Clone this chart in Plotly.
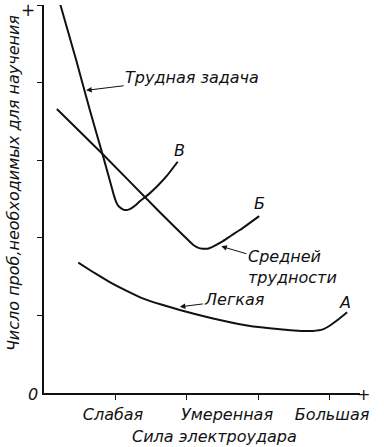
import plotly.graph_objects as go

# --- data ---
hard_x = [0.23, 0.45, 0.64, 0.83, 0.98, 1.01, 1.04, 1.08, 1.12, 1.17, 1.22, 1.28, 1.34, 1.45, 1.58, 1.72, 1.87]
hard_y = [5.00, 4.29, 3.65, 3.04, 2.54, 2.46, 2.41, 2.38, 2.36, 2.36, 2.38, 2.42, 2.47, 2.55, 2.66, 2.80, 2.98]

med_x = [0.18, 0.83, 1.62, 1.95, 2.04, 2.10, 2.16, 2.22, 2.29, 2.37, 2.49, 2.62, 2.74, 3.01]
med_y = [3.66, 3.07, 2.33, 2.03, 1.95, 1.90, 1.87, 1.86, 1.86, 1.89, 1.95, 2.03, 2.10, 2.28]

easy_x = [0.48, 0.70, 0.92, 1.15, 1.38, 1.64, 1.90, 2.32, 2.84, 3.30, 3.60, 3.76, 3.90, 4.00, 4.12, 4.24]
easy_y = [1.68, 1.55, 1.43, 1.32, 1.22, 1.14, 1.07, 0.97, 0.87, 0.82, 0.80, 0.80, 0.82, 0.87, 0.95, 1.04]

x_tick_vals = [1, 2, 3, 4]
y_tick_vals = [1, 2, 3, 4, 5]
x_label_vals = [0.965, 2.56, 4.03]
x_labels = ["Слабая", "Умеренная", "Большая"]

x_title = "Сила электроудара"
y_title = "Число проб,необходимых для научения"

FONT = "DejaVu Sans"
BLACK = "#111111"
FS = 16

fig = go.Figure()
for xs, ys in [(hard_x, hard_y), (med_x, med_y), (easy_x, easy_y)]:
    fig.add_trace(go.Scatter(x=xs, y=ys, mode="lines",
                             line=dict(color=BLACK, width=2, shape="spline", smoothing=0.3),
                             showlegend=False, hoverinfo="skip"))

fig.update_layout(
    width=384, height=447,
    margin=dict(l=44, r=24, t=5, b=54, autoexpand=False),
    paper_bgcolor="white", plot_bgcolor="white",
    font=dict(family=FONT, size=FS, color=BLACK),
    xaxis=dict(range=[0, 4.42], showgrid=False, zeroline=False, automargin=False,
               showline=True, linecolor=BLACK, linewidth=1.5,
               tickvals=x_label_vals, ticktext=[f"<i>{t}</i>" for t in x_labels],
               ticks="outside", ticklen=6, tickcolor="rgba(0,0,0,0)",
               tickfont=dict(family=FONT, size=FS, color=BLACK),
               minor=dict(tickvals=x_tick_vals, ticks="outside", ticklen=5,
                          tickcolor=BLACK, tickwidth=1.2)),
    yaxis=dict(range=[0, 5.0], showgrid=False, zeroline=False, automargin=False,
               showline=True, linecolor=BLACK, linewidth=1.5,
               tickvals=y_tick_vals, ticks="outside", ticklen=5,
               tickcolor=BLACK, tickwidth=1.2, showticklabels=False),
)

ann = []
def txt(x, y, t, xref="x", yref="y", size=FS, angle=0, align="center"):
    ann.append(dict(x=x, y=y, xref=xref, yref=yref, text=t, showarrow=False,
                    textangle=angle, align=align, xanchor="center", yanchor="middle",
                    font=dict(family=FONT, size=size, color=BLACK)))

def arrow(x, y, t, ax, ay):
    ann.append(dict(x=x, y=y, xref="x", yref="y", text=t, showarrow=True,
                    ax=ax, ay=ay, arrowhead=2, arrowsize=1.1, arrowwidth=1,
                    arrowcolor=BLACK, align="left", standoff=0,
                    font=dict(family=FONT, size=FS, color=BLACK)))

arrow(0.59, 3.90, "<i>Трудная задача</i>", 106, -13)
arrow(2.48, 1.89, "<i>Средней<br>трудности</i>", 71, 21)
arrow(1.90, 1.11, "<i>Легкая</i>", 55, -7)

txt(1.90, 3.13, "<i>В</i>")
txt(3.02, 2.44, "<i>Б</i>")
txt(4.21, 1.17, "<i>А</i>")

txt(-0.035, -0.005, "<i>0</i>", xref="paper", yref="paper")
txt(-0.0506, 0.987, "+", xref="paper", yref="paper", size=17)
txt(1.0095, -0.004, "+", xref="paper", yref="paper", size=16)
txt(0.541, -0.113, f"<i>{x_title}</i>", xref="paper", yref="paper")
txt(-0.098, 0.541, f"<i>{y_title}</i>", xref="paper", yref="paper", angle=-90)

fig.update_layout(annotations=ann)
fig.write_html("out.html", config={"displayModeBar": False},
               post_script="document.body.style.margin='0px';")
